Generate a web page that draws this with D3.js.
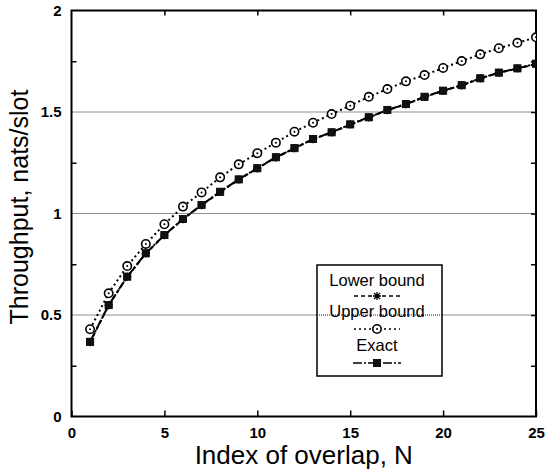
<!DOCTYPE html>
<html>
<head>
<meta charset="utf-8">
<script src="https://cdn.jsdelivr.net/npm/d3@7"></script>
<style>
  body { margin: 0; background: #fff; }
  svg { display: block; font-family: "Liberation Sans", Arial, Helvetica, sans-serif; }
</style>
</head>
<body>
<svg id="chart" width="545" height="475"></svg>
<script>
// Index of overlap N and the three throughput curves (nats/slot).
const overlap = [1, 2, 3, 4, 5, 6, 7, 8, 9, 10, 11, 12, 13, 14, 15, 16, 17, 18, 19, 20, 21, 22, 23, 24, 25];
const exact = [0.368, 0.549, 0.689, 0.804, 0.894, 0.973, 1.042, 1.107, 1.168, 1.223, 1.277, 1.322, 1.367,
               1.400, 1.439, 1.474, 1.510, 1.539, 1.575, 1.605, 1.632, 1.666, 1.694, 1.715, 1.738];
const upper = [0.430, 0.607, 0.741, 0.850, 0.947, 1.034, 1.104, 1.178, 1.242, 1.297, 1.349, 1.403, 1.447,
               1.490, 1.531, 1.575, 1.613, 1.651, 1.682, 1.717, 1.751, 1.784, 1.814, 1.841, 1.868];
// Lower bound sits right under the exact curve, hidden by its squares.
const lower = [0.366, 0.548, 0.688, 0.803, 0.893, 0.972, 1.041, 1.106, 1.167, 1.222, 1.276, 1.321, 1.366,
               1.399, 1.438, 1.473, 1.509, 1.538, 1.574, 1.604, 1.631, 1.665, 1.693, 1.714, 1.737];
const xTicks = [0, 5, 10, 15, 20, 25];
const yTicks = [0, 0.5, 1, 1.5, 2];
const yMinor = [0.25, 0.75, 1.25, 1.75];
const gridValues = [0.5, 1, 1.5];

const svg = d3.select('#chart');
const plotLeft = 71.5, plotTop = 10.5, plotRight = 536, plotBottom = 416.5;

const x = d3.scaleLinear().domain([0, 25]).range([plotLeft, plotRight]);
const y = d3.scaleLinear().domain([0, 2]).range([plotBottom, plotTop]);

svg.append('defs').append('clipPath').attr('id', 'plot')
    .append('rect')
    .attr('x', plotLeft).attr('y', plotTop)
    .attr('width', plotRight - plotLeft).attr('height', plotBottom - plotTop);

// Dotted horizontal grid lines.
svg.append('g')
    .selectAll('line')
    .data(gridValues)
    .join('line')
    .attr('x1', plotLeft).attr('x2', plotRight)
    .attr('y1', d => y(d)).attr('y2', d => y(d))
    .attr('stroke', '#222')
    .attr('stroke-width', 1)
    .attr('stroke-dasharray', '1,1');

// Axes with inward ticks.
const axisStyle = g => {
    g.select('.domain').remove();
    g.selectAll('.tick line').attr('stroke', '#000').attr('stroke-width', 1.5);
    g.selectAll('.tick text')
        .attr('font-size', 15)
        .attr('font-weight', 'bold')
        .attr('fill', '#000');
};

svg.append('g')
    .attr('transform', `translate(0,${plotBottom})`)
    .call(d3.axisBottom(x).tickValues(xTicks).tickFormat(d3.format('d'))
        .tickSizeInner(-6).tickSizeOuter(0).tickPadding(11))
    .call(axisStyle);

svg.append('g')
    .attr('transform', `translate(0,${plotTop})`)
    .call(d3.axisTop(x).tickValues(xTicks.slice(1, -1)).tickFormat('')
        .tickSizeInner(-5).tickSizeOuter(0))
    .call(axisStyle);

svg.append('g')
    .attr('transform', `translate(${plotLeft},0)`)
    .call(d3.axisLeft(y).tickValues(yTicks).tickFormat(d => d)
        .tickSizeInner(0).tickSizeOuter(0).tickPadding(10))
    .call(axisStyle);

svg.append('g')
    .attr('transform', `translate(${plotLeft},0)`)
    .call(d3.axisLeft(y).tickValues(yMinor).tickFormat('')
        .tickSizeInner(-5).tickSizeOuter(0))
    .call(axisStyle);

svg.append('g')
    .attr('transform', `translate(${plotRight},0)`)
    .call(d3.axisRight(y).tickValues(yMinor.concat(gridValues)).tickFormat('')
        .tickSizeInner(-5).tickSizeOuter(0))
    .call(axisStyle);

// Frame.
svg.append('rect')
    .attr('x', plotLeft).attr('y', plotTop)
    .attr('width', plotRight - plotLeft).attr('height', plotBottom - plotTop)
    .attr('fill', 'none')
    .attr('stroke', '#000')
    .attr('stroke-width', 2);

// Axis titles.
svg.append('text')
    .attr('x', (plotLeft + plotRight) / 2)
    .attr('y', 464)
    .attr('text-anchor', 'middle')
    .attr('font-size', 26)
    .text('Index of overlap, N');

svg.append('text')
    .attr('transform', 'translate(28,207) rotate(-90)')
    .attr('text-anchor', 'middle')
    .attr('font-size', 25)
    .text('Throughput, nats/slot');

// Series.
const series = [
    { name: 'Lower bound', values: lower, dash: '4,3', marker: 'star' },
    { name: 'Upper bound', values: upper, dash: '2,3', marker: 'circle' },
    { name: 'Exact', values: exact, dash: '9,2,2,2', marker: 'square' }
];

const line = d3.line()
    .x((d, i) => x(overlap[i]))
    .y(d => y(d));

function drawMarker(g, type, cx, cy) {
    if (type === 'circle') {
        g.append('circle').attr('cx', cx).attr('cy', cy).attr('r', 4.2)
            .attr('fill', '#fff').attr('stroke', '#000').attr('stroke-width', 1.6);
        g.append('circle').attr('cx', cx).attr('cy', cy).attr('r', 1)
            .attr('fill', '#000');
    } else if (type === 'square') {
        g.append('rect').attr('x', cx - 3.6).attr('y', cy - 3.6)
            .attr('width', 7.2).attr('height', 7.2)
            .attr('fill', '#111').attr('stroke', '#000').attr('stroke-width', 0.8);
    } else {
        g.append('path')
            .attr('d', `M${cx - 4},${cy}H${cx + 4}M${cx},${cy - 4}V${cy + 4}` +
                `M${cx - 3},${cy - 3}L${cx + 3},${cy + 3}M${cx - 3},${cy + 3}L${cx + 3},${cy - 3}`)
            .attr('stroke', '#000').attr('stroke-width', 1.3);
    }
}

const plot = svg.append('g').attr('clip-path', 'url(#plot)');

series.forEach(s => {
    plot.append('path')
        .datum(s.values)
        .attr('d', line)
        .attr('fill', 'none')
        .attr('stroke', '#000')
        .attr('stroke-width', 2)
        .attr('stroke-dasharray', s.dash);
    const mg = plot.append('g');
    s.values.forEach((v, i) => drawMarker(mg, s.marker, x(overlap[i]), y(v)));
});

// Legend.
const legend = { x: 317, y: 265, w: 125, h: 111 };
const lg = svg.append('g');
lg.append('rect')
    .attr('x', legend.x).attr('y', legend.y)
    .attr('width', legend.w).attr('height', legend.h)
    .attr('fill', '#fff')
    .attr('stroke', '#000')
    .attr('stroke-width', 1.5);

// The 0.5 grid line runs through the legend in the reference.
lg.append('line')
    .attr('x1', legend.x).attr('x2', legend.x + legend.w)
    .attr('y1', y(0.5)).attr('y2', y(0.5))
    .attr('stroke', '#222').attr('stroke-dasharray', '1,1');

const legendRows = [
    { text: 286, sample: 296, half: 23 },
    { text: 317, sample: 329, half: 23 },
    { text: 351, sample: 363, half: 24 }
];
const lcx = 377;
series.forEach((s, i) => {
    const r = legendRows[i];
    lg.append('text')
        .attr('x', lcx).attr('y', r.text)
        .attr('text-anchor', 'middle')
        .attr('font-size', 16.5)
        .text(s.name);
    lg.append('line')
        .attr('x1', lcx - r.half).attr('x2', lcx + r.half)
        .attr('y1', r.sample).attr('y2', r.sample)
        .attr('stroke', '#000')
        .attr('stroke-width', 1.6)
        .attr('stroke-dasharray', s.dash);
    drawMarker(lg, s.marker, lcx, r.sample);
});
</script>
</body>
</html>
